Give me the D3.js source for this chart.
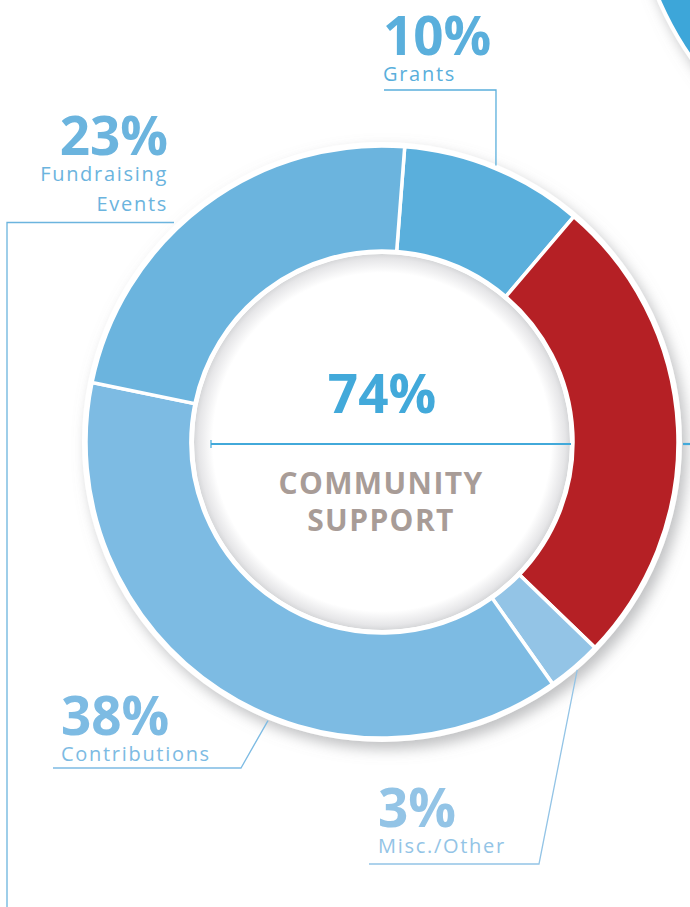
<!DOCTYPE html>
<html>
<head>
<meta charset="utf-8">
<script src="https://cdn.jsdelivr.net/npm/d3@7"></script>
<style>
  html, body { margin: 0; padding: 0; background: #fff; }
  svg { display: block; }
</style>
</head>
<body>
<svg id="chart"></svg>
<script>
// slices, clockwise from just right of 12 o'clock
const categories = ["Grants", "", "Misc./Other", "Contributions", "Fundraising Events"];
const values = [10, 26, 3, 38, 23];
const pctLabels = ["10%", "", "3%", "38%", "23%"];
const nameLines = [["Grants"], [], ["Misc./Other"], ["Contributions"], ["Fundraising", "Events"]];
const colors = ["#5aafdc", "#b52025", "#93c4e6", "#7dbbe3", "#6bb4de"];
const centerValue = "74%";
const centerLines = ["COMMUNITY", "SUPPORT"];

const width = 690, height = 907;
const cx = 382, cy = 442;
const outerR = 296, innerR = 191;
const startDeg = 4.4;

const svg = d3.select("#chart").attr("width", width).attr("height", height);
const defs = svg.append("defs");

const shadow = defs.append("filter").attr("id", "shadow")
  .attr("x", "-20%").attr("y", "-20%").attr("width", "140%").attr("height", "140%");
shadow.append("feDropShadow").attr("dx", 5).attr("dy", 7).attr("stdDeviation", 7)
  .attr("flood-color", "#8a8c90").attr("flood-opacity", 0.55);

// inner disk shading (ring casting onto the hole)
const innerGrad = defs.append("radialGradient").attr("id", "innerGrad")
  .attr("cx", "50%").attr("cy", "50%").attr("r", "50%");
innerGrad.append("stop").attr("offset", "0.9").attr("stop-color", "#ffffff");
innerGrad.append("stop").attr("offset", "0.975").attr("stop-color", "#e6e6e8");
innerGrad.append("stop").attr("offset", "1").attr("stop-color", "#d6d7d9");

// partial circle peeking in the top-right corner
svg.append("circle")
  .attr("cx", 960).attr("cy", -130).attr("r", 328)
  .attr("fill", "#3ea6d9").attr("stroke", "#fff").attr("stroke-width", 4)
  .attr("filter", "url(#shadow)");

const g = svg.append("g").attr("transform", `translate(${cx},${cy})`);

// white backing ring with shadow
g.append("circle").attr("r", outerR + 4).attr("fill", "#fff").attr("filter", "url(#shadow)");

const pie = d3.pie().sort(null).value(d => d)
  .startAngle(startDeg * Math.PI / 180)
  .endAngle(startDeg * Math.PI / 180 + 2 * Math.PI);
const arcs = pie(values);
const arc = d3.arc().innerRadius(innerR).outerRadius(outerR);

g.selectAll("path.slice").data(arcs).enter()
  .append("path")
  .attr("class", "slice")
  .attr("d", arc)
  .attr("fill", (d, i) => colors[i])
  .attr("stroke", "#fff")
  .attr("stroke-width", 3.5)
  .attr("stroke-linejoin", "miter");

// hole
g.append("circle").attr("r", innerR - 3).attr("fill", "url(#innerGrad)");
g.append("circle").attr("r", innerR - 1.5).attr("fill", "none").attr("stroke", "#fff").attr("stroke-width", 3);

// center text
const blue = "#42a9da";
g.append("text").attr("x", 0).attr("y", -29)
  .attr("text-anchor", "middle")
  .style("font-family", "'Open Sans', sans-serif").style("font-weight", 700)
  .style("font-size", "53px").attr("fill", blue)
  .text(centerValue);

g.append("line").attr("x1", -171).attr("x2", 189).attr("y1", 2).attr("y2", 2)
  .attr("stroke", blue).attr("stroke-width", 2.2);
g.append("line").attr("x1", -171).attr("x2", -171).attr("y1", -2).attr("y2", 6)
  .attr("stroke", blue).attr("stroke-width", 1.2);
g.append("line").attr("x1", 301).attr("x2", 320).attr("y1", 2).attr("y2", 2)
  .attr("stroke", blue).attr("stroke-width", 2.2);

centerLines.forEach((t, i) => {
  g.append("text").attr("x", -1).attr("y", 52 + i * 37)
    .attr("text-anchor", "middle")
    .style("font-family", "'Open Sans', sans-serif").style("font-weight", 700)
    .style("font-size", "30px").style("letter-spacing", "1.4px")
    .attr("fill", "#a89c97")
    .text(t);
});

// callouts
const labelPos = [
  { x: 383, y: 55, anchor: "start" },
  null,
  { x: 378, y: 827, anchor: "start" },
  { x: 61, y: 735, anchor: "start" },
  { x: 168, y: 155, anchor: "end" }
];

const angleOf = (i, f) => arcs[i].startAngle + (arcs[i].endAngle - arcs[i].startAngle) * f;
const pt = (a, r) => [cx + r * Math.sin(a), cy - r * Math.cos(a)];

const leaders = [
  [[384, 90], [496, 90], pt(angleOf(0, 0.5), outerR + 3)],
  null,
  [[369, 864], [539, 864], pt(angleOf(2, 0.5), outerR + 4)],
  [[53, 768], [241, 768], pt(angleOf(3, 0.42), outerR + 5)],
  [[174, 222.5], [7, 222.5], [7, height + 5]]
];

const line = d3.line();

values.forEach((v, i) => {
  const p = labelPos[i];
  if (!p) return;
  svg.append("text").attr("x", p.x).attr("y", p.y)
    .attr("text-anchor", p.anchor)
    .style("font-family", "'Open Sans', sans-serif").style("font-weight", 700)
    .style("font-size", "53px").attr("fill", colors[i])
    .text(pctLabels[i]);
  nameLines[i].forEach((t, j) => {
    svg.append("text").attr("x", p.x).attr("y", p.y + 26 + j * 30)
      .attr("text-anchor", p.anchor)
      .style("font-family", "'Open Sans', sans-serif").style("font-weight", 400)
      .style("font-size", "20px").style("letter-spacing", "1.7px")
      .attr("fill", colors[i])
      .text(t);
  });
  svg.append("path").attr("d", line(leaders[i]))
    .attr("fill", "none").attr("stroke", colors[i]).attr("stroke-width", 1.3);
});
</script>
</body>
</html>
